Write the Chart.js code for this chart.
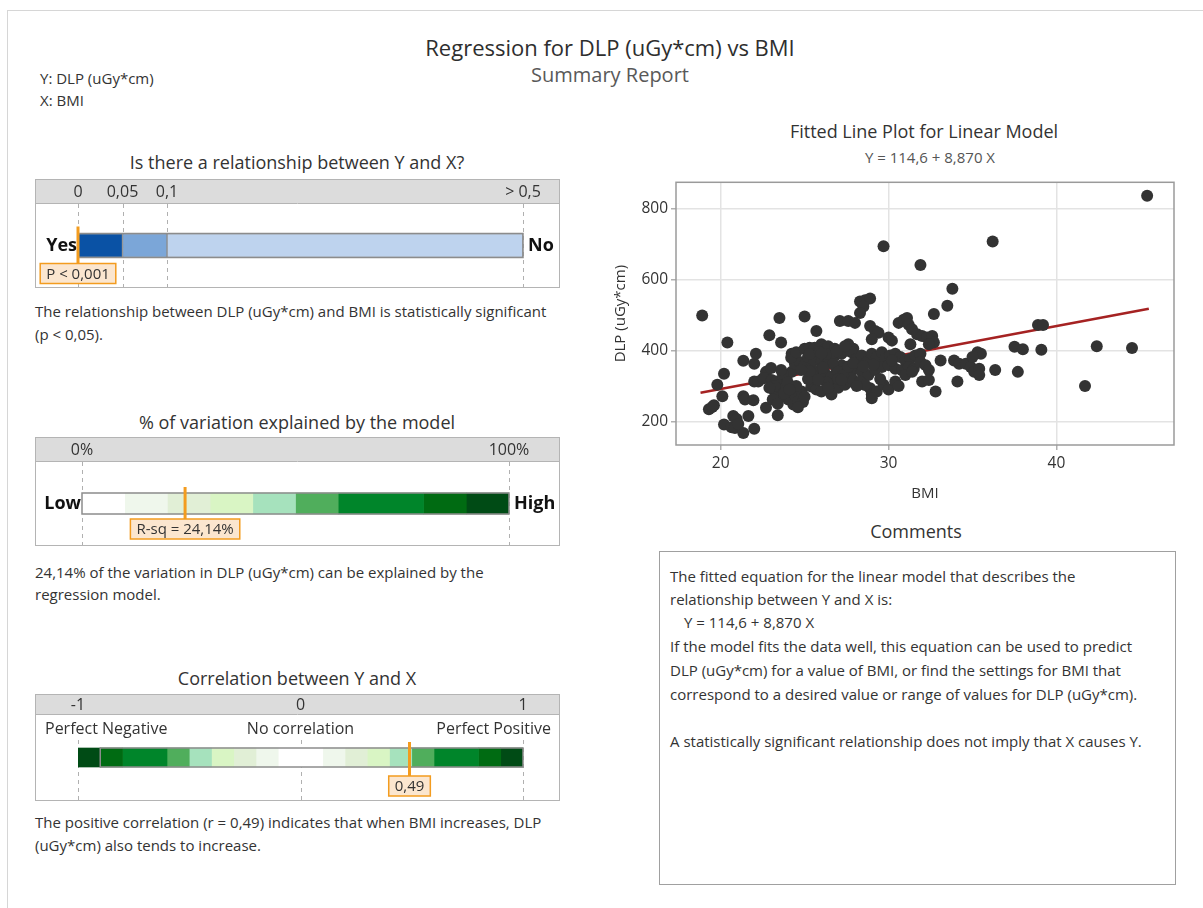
<!DOCTYPE html>
<html>
<head>
<meta charset="utf-8">
<script src="https://cdn.jsdelivr.net/npm/chart.js@4.4.1/dist/chart.umd.min.js"></script>
<style>
  body { margin: 0; background: #fff; font-family: "Open Sans", "Noto Sans", sans-serif; color: #333; }
  #page { position: relative; width: 1203px; height: 908px; overflow: hidden; }
  .frame { position: absolute; left: 7px; top: 10px; width: 1200px; height: 900px; border-left: 1px solid #d6d6d6; border-top: 1px solid #d6d6d6; }
  .t { position: absolute; white-space: nowrap; }
  .c { transform: translateX(-50%); text-align: center; }
  .main { font-size: 22px; line-height: 24px; color: #2e2e2e; }
  .sub { font-size: 20px; line-height: 24px; color: #595959; }
  .small { font-size: 15px; line-height: 22px; color: #333; }
  .ptitle { font-size: 18px; line-height: 22px; color: #333; }
  canvas { position: absolute; }
  #comments { position: absolute; left: 659px; top: 551px; width: 515px; height: 332px; border: 1px solid #a0a0a0; }
  #comments div { position: absolute; left: 10px; font-size: 15px; line-height: 20px; color: #333; white-space: nowrap; }
</style>
</head>
<body>
<div id="page">
  <div class="frame"></div>

  <div class="t c main" style="left:610px; top:35px;">Regression for DLP (uGy*cm) vs BMI</div>
  <div class="t c sub" style="left:610px; top:63px;">Summary Report</div>
  <div class="t small" style="left:40px; top:67px;">Y: DLP (uGy*cm)</div>
  <div class="t small" style="left:40px; top:89px;">X: BMI</div>

  <div class="t c ptitle" style="left:297px; top:151px;">Is there a relationship between Y and X?</div>
  <canvas id="pChart" width="525" height="109" style="left:35px; top:179px;"></canvas>
  <div class="t small" style="left:35px; top:300px;">The relationship between DLP (uGy*cm) and BMI is statistically significant</div>
  <div class="t small" style="left:35px; top:323px;">(p &lt; 0,05).</div>

  <div class="t c ptitle" style="left:297px; top:411px;">% of variation explained by the model</div>
  <canvas id="rChart" width="525" height="109" style="left:35px; top:437px;"></canvas>
  <div class="t small" style="left:35px; top:561px;">24,14% of the variation in DLP (uGy*cm) can be explained by the</div>
  <div class="t small" style="left:35px; top:583px;">regression model.</div>

  <div class="t c ptitle" style="left:297px; top:667px;">Correlation between Y and X</div>
  <canvas id="cChart" width="525" height="107" style="left:35px; top:694px;"></canvas>
  <div class="t small" style="left:35px; top:811px;">The positive correlation (r = 0,49) indicates that when BMI increases, DLP</div>
  <div class="t small" style="left:35px; top:834px;">(uGy*cm) also tends to increase.</div>

  <div class="t c ptitle" style="left:924px; top:120px;">Fitted Line Plot for Linear Model</div>
  <div class="t c small" style="left:930px; top:146px; color:#555;">Y = 114,6 + 8,870 X</div>
  <canvas id="fitChart" width="590" height="340" style="left:600px; top:170px;"></canvas>

  <div class="t c ptitle" style="left:916px; top:520px;">Comments</div>
  <div id="comments">
    <div style="top:14px;">The fitted equation for the linear model that describes the</div>
    <div style="top:37px;">relationship between Y and X is:</div>
    <div style="top:60px; left:24px;">Y = 114,6 + 8,870 X</div>
    <div style="top:84px;">If the model fits the data well, this equation can be used to predict</div>
    <div style="top:108px;">DLP (uGy*cm) for a value of BMI, or find the settings for BMI that</div>
    <div style="top:132px;">correspond to a desired value or range of values for DLP (uGy*cm).</div>
    <div style="top:179px;">A statistically significant relationship does not imply that X causes Y.</div>
  </div>
</div>

<script>
// ---- scatter data (BMI vs DLP) ----
const bmi = [18.9, 20.4, 20.2, 19.8, 20.1, 19.3, 19.5, 19.6, 20.2, 20.75, 20.95, 20.65, 20.85, 21.35, 21.05, 21.65, 22.0, 21.35, 21.45, 21.95,
  21.35, 22.0, 22.1, 22.0, 22.9, 23.5, 23.6, 22.7, 23.0, 22.7, 23.4, 22.24, 22.54, 23.04, 23.33, 23.53, 23.83, 23.23, 23.63, 24.03,
  24.33, 24.42, 24.82, 24.62, 23.93, 24.23, 24.42, 24.23, 24.72, 23.2, 23.7, 24.0, 24.5, 24.9, 24.2, 24.5, 25.0, 25.7, 26.0, 25.4,
  25.7, 26.0, 26.6, 25.0, 25.3, 25.6, 25.9, 26.2, 26.4, 26.8, 25.0, 25.4, 25.8, 26.2, 26.6, 26.9, 27.2, 27.5, 25.2, 25.6,
  26.0, 26.4, 26.8, 27.2, 27.5, 27.1, 27.6, 26.6, 27.0, 27.4, 27.7, 27.6, 27.9, 28.1, 28.3, 28.6, 28.9, 28.5, 28.3, 28.0,
  28.9, 29.2, 29.4, 29.0, 30.6, 30.9, 31.1, 31.2, 31.4, 31.7, 32.0, 32.3, 32.6, 32.7, 32.4, 30.0, 30.2, 31.3, 27.8, 28.1,
  28.4, 28.7, 29.0, 29.3, 29.6, 29.8, 30.1, 30.4, 30.7, 31.0, 31.3, 31.6, 31.9, 28.0, 28.4, 28.8, 29.2, 29.6, 30.0, 30.4,
  30.8, 31.2, 31.5, 27.8, 28.3, 28.9, 29.0, 29.3, 29.7, 30.0, 30.4, 31.0, 31.4, 29.0, 28.6, 31.9, 32.2, 32.4, 32.0, 32.4,
  32.8, 33.1, 33.9, 34.2, 34.6, 34.9, 35.1, 35.3, 35.5, 35.0, 35.4, 35.4, 34.1, 36.35, 29.7, 31.9, 33.8, 33.5, 32.7, 36.2,
  37.5, 38.0, 37.7, 38.9, 39.2, 39.1, 41.7, 42.4, 44.5, 45.4, 25.3, 25.9, 26.3, 26.7, 27.0, 27.3, 27.6, 27.9, 26.1, 25.5,
  25.2, 26.9, 27.4, 27.0, 26.3, 23.1, 23.4, 23.8, 24.6, 25.0, 24.1, 22.9, 23.6, 25.3, 25.8, 26.4, 27.2, 28.1, 29.5, 30.6,
  30.2, 29.1, 28.5, 26.0, 24.8];
const dlp = [499, 423, 335, 304, 271, 235, 241, 246, 192, 216, 207, 184, 182, 168, 193, 216, 180, 271, 262, 260,
  371, 363, 391, 313, 443, 492, 423, 340, 351, 239, 218, 313, 322, 317, 313, 304, 294, 285, 271, 262,
  248, 276, 285, 258, 327, 340, 363, 391, 368, 300, 335, 310, 300, 255, 380, 395, 496, 455, 418, 299,
  290, 285, 276, 405, 408, 408, 405, 404, 412, 405, 359, 350, 341, 336, 327, 350, 359, 345, 382, 373,
  368, 377, 386, 391, 400, 483, 483, 304, 295, 304, 313, 418, 405, 375, 538, 542, 547, 524, 506, 478,
  469, 455, 450, 432, 478, 487, 492, 473, 460, 446, 441, 437, 441, 423, 418, 437, 428, 418, 395, 377,
  386, 368, 391, 382, 395, 377, 386, 391, 382, 372, 377, 386, 391, 349, 340, 331, 345, 354, 359, 349,
  345, 354, 349, 322, 313, 294, 276, 285, 304, 290, 313, 331, 340, 266, 303, 368, 359, 345, 313, 317,
  285, 372, 372, 363, 363, 354, 340, 395, 391, 382, 349, 331, 313, 345, 694, 641, 574, 526, 503, 707,
  411, 404, 340, 472, 472, 402, 300, 412, 407, 836, 390, 395, 390, 362, 340, 330, 355, 365, 352, 330,
  320, 398, 412, 320, 310, 262, 250, 280, 240, 270, 290, 295, 345, 342, 318, 295, 318, 300, 320, 300,
  372, 360, 356, 392, 345];

// fitted line end points (Y = 114,6 + 8,870 X)
const fitX = [18.8, 45.5];
const fitY = [281, 518];

const bmiTicks = [20, 30, 40];
const dlpTicks = [200, 400, 600, 800];

// ---- gauge data ----
const pTicks = [0, 0.05, 0.1, 0.5];
const pTickLabels = ['0', '0,05', '0,1', '> 0,5'];
const pBounds = [0, 0.05, 0.1, 0.5];
const pColors = ['#0a52a5', '#7ba6d8', '#bed3ee'];
const pValue = 0;
const pLabel = 'P < 0,001';

const rTicks = [0, 100];
const rTickLabels = ['0%', '100%'];
const rBounds = [0, 10, 20, 30, 40, 50, 60, 80, 90, 100];
const rColors = ['#ffffff', '#eff7ec', '#e1efd6', '#d9f5c4', '#a6e2bd', '#50ae5c', '#00852a', '#006b12', '#004b15'];
const rValue = 24.14;
const rLabel = 'R-sq = 24,14%';

const cTicks = [-1, 0, 1];
const cTickLabels = ['-1', '0', '1'];
const cBounds = [-1, -0.9, -0.8, -0.6, -0.5, -0.4, -0.3, -0.2, -0.1, 0.1, 0.2, 0.3, 0.4, 0.5, 0.6, 0.8, 0.9, 1];
const cColors = ['#004b15', '#006b12', '#00852a', '#50ae5c', '#a6e2bd', '#d9f5c4', '#e1efd6', '#eff7ec', '#ffffff',
  '#eff7ec', '#e1efd6', '#d9f5c4', '#a6e2bd', '#50ae5c', '#00852a', '#006b12', '#004b15'];
const cValue = 0.49;
const cLabel = '0,49';

const FONT = '"Open Sans", "Noto Sans", sans-serif';
const ORANGE = '#f39c1f';

function gauge(id, g) {
  const datasets = g.bounds.slice(0, -1).map((b, i) => ({
    data: [[b, g.bounds[i + 1]]],
    backgroundColor: g.colors[i],
    borderColor: '#8c8c8c',
    borderWidth: g.segBorder,
    borderSkipped: false,
    grouped: false,
    barThickness: g.barH
  }));

  const deco = {
    id: 'deco',
    beforeDatasetsDraw(chart) {
      const ctx = chart.ctx, w = chart.width, h = chart.height;
      const xs = chart.scales.x;
      ctx.save();
      ctx.fillStyle = '#dcdcdc';
      ctx.fillRect(0, 0, w, g.headerH);
      ctx.strokeStyle = '#b4b4b4';
      ctx.lineWidth = 1;
      ctx.strokeRect(0.5, 0.5, w - 1, h - 1);
      ctx.beginPath();
      ctx.moveTo(0, g.headerH + 0.5);
      ctx.lineTo(w, g.headerH + 0.5);
      ctx.stroke();
      ctx.setLineDash([4, 4]);
      ctx.strokeStyle = '#b0b0b0';
      g.ticks.forEach(t => {
        const x = Math.round(xs.getPixelForValue(t)) + 0.5;
        ctx.beginPath();
        ctx.moveTo(x, g.dashTop);
        ctx.lineTo(x, h - 1);
        ctx.stroke();
      });
      ctx.setLineDash([]);
      ctx.fillStyle = '#333';
      ctx.font = '16px ' + FONT;
      ctx.textAlign = 'center';
      ctx.textBaseline = 'middle';
      g.ticks.forEach((t, i) => ctx.fillText(g.tickLabels[i], xs.getPixelForValue(t), g.headerH / 2 + 1));
      if (g.topLabels) {
        ctx.font = '16px ' + FONT;
        ctx.textAlign = 'left';
        ctx.fillText(g.topLabels[0], 10, g.topY);
        ctx.textAlign = 'center';
        ctx.fillText(g.topLabels[1], xs.getPixelForValue(0), g.topY);
        ctx.textAlign = 'right';
        ctx.fillText(g.topLabels[2], w - 9, g.topY);
      }
      ctx.restore();
    },
    afterDatasetsDraw(chart) {
      const ctx = chart.ctx;
      const xs = chart.scales.x;
      const first = chart.getDatasetMeta(0).data[0];
      const last = chart.getDatasetMeta(datasets.length - 1).data[0];
      const top = first.y - first.height / 2, bot = first.y + first.height / 2;
      ctx.save();
      ctx.strokeStyle = '#8c8c8c';
      ctx.lineWidth = 1.5;
      ctx.strokeRect(first.base, top, last.x - first.base, bot - top);
      if (g.leftWord) {
        ctx.fillStyle = '#111';
        ctx.font = 'bold 18px ' + FONT;
        ctx.textBaseline = 'middle';
        ctx.textAlign = 'right';
        ctx.fillText(g.leftWord, chart.chartArea.left - 1, first.y);
        ctx.textAlign = 'left';
        ctx.fillText(g.rightWord, chart.chartArea.right + 5, first.y);
      }
      const mx = xs.getPixelForValue(g.value);
      const mTop = top - g.mUp, mBot = bot + g.mDown;
      ctx.strokeStyle = ORANGE;
      ctx.lineWidth = 3;
      ctx.beginPath();
      ctx.moveTo(mx, mTop);
      ctx.lineTo(mx, mBot);
      ctx.stroke();
      ctx.font = '15px ' + FONT;
      const tw = ctx.measureText(g.label).width + 12;
      ctx.fillStyle = '#fbe6cf';
      ctx.fillRect(mx - tw / 2, mBot, tw, 20);
      ctx.lineWidth = 1.5;
      ctx.strokeRect(mx - tw / 2, mBot, tw, 20);
      ctx.fillStyle = '#333';
      ctx.textAlign = 'center';
      ctx.textBaseline = 'middle';
      ctx.fillText(g.label, mx, mBot + 11);
      ctx.restore();
    }
  };

  return new Chart(document.getElementById(id), {
    type: 'bar',
    data: { labels: [''], datasets: datasets },
    options: {
      responsive: false,
      animation: false,
      indexAxis: 'y',
      layout: { padding: { left: g.padL, right: g.padR, top: g.headerH, bottom: 0 } },
      plugins: { legend: { display: false }, tooltip: { enabled: false } },
      scales: {
        x: { type: 'linear', min: g.min, max: g.max, display: false },
        y: { display: false }
      }
    },
    plugins: [deco]
  });
}

gauge('pChart', {
  min: 0, max: 0.5, bounds: pBounds, colors: pColors, ticks: pTicks, tickLabels: pTickLabels,
  value: pValue, label: pLabel, headerH: 24, barH: 24, padL: 43, padR: 37, segBorder: 1,
  dashTop: 25, leftWord: 'Yes', rightWord: 'No', mUp: 7, mDown: 6
});
gauge('rChart', {
  min: 0, max: 100, bounds: rBounds, colors: rColors, ticks: rTicks, tickLabels: rTickLabels,
  value: rValue, label: rLabel, headerH: 24, barH: 21, padL: 47, padR: 51, segBorder: 0,
  dashTop: 25, leftWord: 'Low', rightWord: 'High', mUp: 6, mDown: 5
});
gauge('cChart', {
  min: -1, max: 1, bounds: cBounds, colors: cColors, ticks: cTicks, tickLabels: cTickLabels,
  value: cValue, label: cLabel, headerH: 20, barH: 19, padL: 43, padR: 37, segBorder: 0,
  dashTop: 46, topLabels: ['Perfect Negative', 'No correlation', 'Perfect Positive'], topY: 35,
  mUp: 6, mDown: 9
});

// ---- fitted line plot ----
const framePlugin = {
  id: 'frame',
  beforeDatasetsDraw(chart) {
    const a = chart.chartArea, ctx = chart.ctx;
    ctx.save();
    ctx.strokeStyle = '#9a9a9a';
    ctx.lineWidth = 1.5;
    ctx.strokeRect(a.left, a.top, a.right - a.left, a.bottom - a.top);
    ctx.restore();
  }
};

new Chart(document.getElementById('fitChart'), {
  type: 'scatter',
  data: {
    datasets: [
      {
        data: bmi.map((x, i) => ({ x: x, y: dlp[i] })),
        backgroundColor: '#333333',
        borderWidth: 0,
        pointRadius: 6
      },
      {
        type: 'line',
        data: fitX.map((x, i) => ({ x: x, y: fitY[i] })),
        borderColor: '#a52222',
        borderWidth: 2.5,
        pointRadius: 0,
        fill: false
      }
    ]
  },
  options: {
    responsive: false,
    animation: false,
    layout: { padding: { top: 6, right: 16, left: 0, bottom: 0 } },
    plugins: { legend: { display: false }, tooltip: { enabled: false } },
    scales: {
      x: {
        type: 'linear', min: 17.34, max: 47.0,
        afterBuildTicks: s => { s.ticks = bmiTicks.map(v => ({ value: v })); },
        afterFit: s => { s.height = 65; },
        grid: { color: '#e3e3e3', lineWidth: 1.5, tickLength: 5, tickColor: '#b0b0b0' },
        border: { display: false },
        ticks: { color: '#333', font: { family: FONT, size: 15.5 }, padding: 4 },
        title: { display: true, text: 'BMI', color: '#333', font: { family: FONT, size: 15 }, padding: { top: 0, bottom: 7 } }
      },
      y: {
        type: 'linear', min: 134, max: 874,
        afterBuildTicks: s => { s.ticks = dlpTicks.map(v => ({ value: v })); },
        afterFit: s => { s.width = 76; },
        grid: { color: '#e3e3e3', lineWidth: 1.5, tickLength: 5, tickColor: '#b0b0b0' },
        border: { display: false },
        ticks: { color: '#333', font: { family: FONT, size: 15.5 }, padding: 3 },
        title: { display: true, text: 'DLP (uGy*cm)', color: '#333', font: { family: FONT, size: 15 }, padding: { top: 12, bottom: 0 } }
      }
    }
  },
  plugins: [framePlugin]
});
</script>
</body>
</html>
